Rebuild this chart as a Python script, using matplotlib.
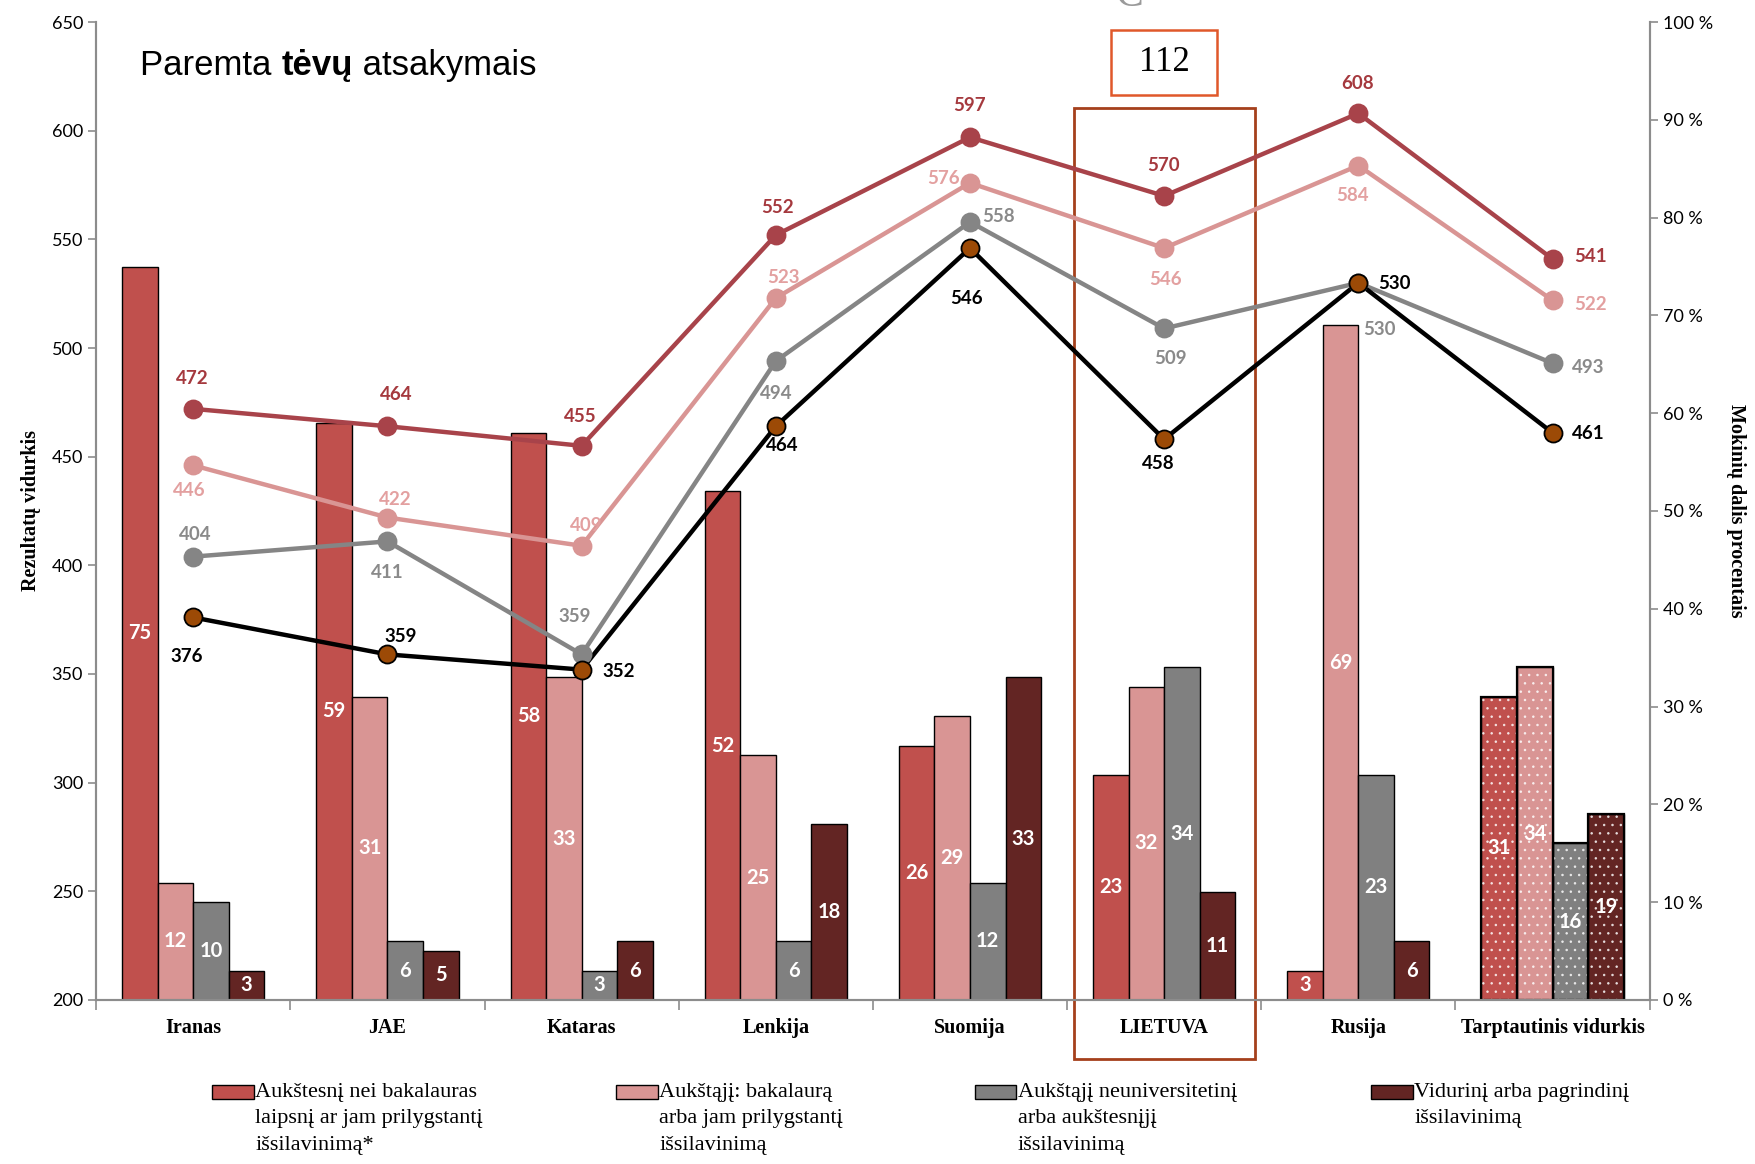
import matplotlib

matplotlib.use("Agg")
import matplotlib.pyplot as plt  # noqa: E402
import numpy as np  # noqa: E402
from matplotlib.offsetbox import AnchoredOffsetbox, HPacker, TextArea  # noqa: E402
from matplotlib.patches import Rectangle  # noqa: E402

# --- data -------------------------------------------------------------------
countries = ["Iranas", "JAE", "Kataras", "Lenkija", "Suomija", "LIETUVA",
             "Rusija", "Tarptautinis vidurkis"]

# student share per parent education level (%), right axis
share_higher = [75, 59, 58, 52, 26, 23, 3, 31]
share_bachelor = [12, 31, 33, 25, 29, 32, 69, 34]
share_nonuni = [10, 6, 3, 6, 12, 34, 23, 16]
share_secondary = [3, 5, 6, 18, 33, 11, 6, 19]

# mean score per parent education level, left axis
score_higher = [472, 464, 455, 552, 597, 570, 608, 541]
score_bachelor = [446, 422, 409, 523, 576, 546, 584, 522]
score_nonuni = [404, 411, 359, 494, 558, 509, 530, 493]
score_secondary = [376, 359, 352, 464, 546, 458, 530, 461]

legend_labels = [
    "Aukštesnį nei bakalauras\nlaipsnį ar jam prilygstantį\nišsilavinimą*",
    "Aukštąjį: bakalaurą\narba jam prilygstantį\nišsilavinimą",
    "Aukštąjį neuniversitetinį\narba aukštesnįjį\nišsilavinimą",
    "Vidurinį arba pagrindinį\nišsilavinimą",
]

# --- style -------------------------------------------------------------------
BAR_COLORS = ["#C0504D", "#D99594", "#808080", "#632523"]
LINE_COLORS = ["#A8434A", "#D99594", "#858585", "#000000"]
MARKER_FACES = ["#A8434A", "#D99594", "#858585", "#9C4A06"]
LABEL_COLORS = ["#A5393E", "#E3A0A0", "#8A8A8A", "#000000"]
SPINE = "#8C8C8C"
SANS = ["Lato", "DejaVu Sans"]
SERIF = ["Liberation Serif", "DejaVu Serif"]
plt.rcParams["hatch.linewidth"] = 0.6

# label offsets (pixels) per series and category
OFFSETS = [
    [(-1, 30), (9, 32), (-1, 29), (2, 28), (0, 32), (-1, 30), (-1, 30), (38, 2)],
    [(-4, -25), (8, 18), (5, 20), (8, 21), (-26, 4), (1, -31), (-6, -30), (38, -4)],
    [(2, 22), (0, -31), (-7, 38), (0, -32), (29, 6), (6, -30), (21, -47), (36, -4)],
    [(-7, -39), (13, 18), (37, -2), (6, -19), (-3, -50), (-6, -24), (36, -1), (36, -1)],
]

fig = plt.figure(figsize=(17.56, 11.64), dpi=100)
ax = fig.add_axes([0.0548, 0.141, 0.8846, 0.840])
ax2 = ax.twinx()
ax.set_zorder(ax2.get_zorder() + 1)
ax.patch.set_visible(False)

n = len(countries)
x = np.arange(n) + 0.5
width = 0.183
shares = [share_higher, share_bachelor, share_nonuni, share_secondary]
for i, vals in enumerate(shares):
    pos = x + (i - 1.5) * width
    ax2.bar(pos, vals, width=width, color=BAR_COLORS[i], edgecolor="black",
            linewidth=1.0, zorder=2)
    # dotted fill for the international average
    ax2.bar(pos[-1:], vals[-1:], width=width, facecolor="none",
            edgecolor=(1, 1, 1, 0.75), hatch="..", linewidth=0, zorder=3)
    ax2.bar(pos[-1:], vals[-1:], width=width, facecolor="none",
            edgecolor="black", linewidth=1.6, zorder=4)
    for px, v in zip(pos, vals):
        ax2.text(px, v / 2, str(v), ha="center", va="center", color="white",
                 fontsize=14.5, fontweight="bold", family=SANS, zorder=5)

scores = [score_higher, score_bachelor, score_nonuni, score_secondary]
for i, vals in enumerate(scores):
    ax.plot(x, vals, color=LINE_COLORS[i], linewidth=3.2, zorder=3 + i * 0.1)
    ax.plot(x, vals, linestyle="none", marker="o", markersize=13,
            markerfacecolor=MARKER_FACES[i],
            markeredgecolor="black" if i == 3 else MARKER_FACES[i],
            markeredgewidth=1.3, zorder=4 + i * 0.1)
for i, vals in enumerate(scores):
    for px, v, off in zip(x, vals, OFFSETS[i]):
        ax.annotate(str(v), (px, v), xytext=off, textcoords="offset pixels",
                    ha="center", va="center", color=LABEL_COLORS[i],
                    fontsize=13.5, fontweight="bold", family=SANS, zorder=8)

# axes
ax.set_xlim(0, n)
ax.set_ylim(200, 650)
ax2.set_ylim(0, 100)
ax.set_yticks(np.arange(200, 651, 50))
ax2.set_yticks(np.arange(0, 101, 10))
ax2.set_yticklabels([f"{v} %" for v in range(0, 101, 10)])
ax.set_xticks(np.arange(n + 1))
ax.set_xticklabels([])
ax.set_xticks(x, minor=True)
ax.set_xticklabels(countries, minor=True, family=SERIF, fontweight="bold",
                   fontsize=14.5)
ax.tick_params(axis="x", which="minor", length=0, pad=13)
ax.tick_params(axis="x", which="major", length=7, color=SPINE, width=1.2)
ax.tick_params(axis="y", length=6, color=SPINE, width=1.2, labelsize=13)
ax2.tick_params(axis="y", length=6, color=SPINE, width=1.2, labelsize=13)
for a in (ax, ax2):
    for lab in a.get_yticklabels():
        lab.set_family(SANS)
    a.spines["top"].set_visible(False)
    for s in ("left", "right", "bottom"):
        a.spines[s].set_color(SPINE)
        a.spines[s].set_linewidth(1.5)

ax.set_ylabel("Rezultatų vidurkis", family=SERIF, fontweight="bold",
              fontsize=14.5, labelpad=8)
ax2.set_ylabel("Mokinių dalis procentais", family=SERIF, fontweight="bold",
               fontsize=14.5, rotation=270, labelpad=24)

# LIETUVA highlight box and the "112" box above it
ax.add_patch(Rectangle((5.035, 172.7), 0.935, 437.6, fill=False,
                       edgecolor="#A5401C", linewidth=2.0, clip_on=False,
                       zorder=2))
ax.add_patch(Rectangle((5.226, 616.5), 0.548, 29.9, fill=False,
                       edgecolor="#E0582A", linewidth=1.8, clip_on=False,
                       zorder=2))
ax.text(5.5, 631.5, "112", ha="center", va="center", family=SERIF,
        fontsize=25, color="black")

# title with bold word
font_t = ["Liberation Sans", "DejaVu Sans"]
parts = [TextArea("Paremta ", textprops=dict(fontsize=25, family=font_t)),
         TextArea("tėvų", textprops=dict(fontsize=25, fontweight="bold", family=font_t)),
         TextArea(" atsakymais", textprops=dict(fontsize=25, family=font_t))]
title = AnchoredOffsetbox(loc="upper left", child=HPacker(children=parts, pad=0, sep=0),
                          bbox_to_anchor=(0.080, 0.958), bbox_transform=fig.transFigure,
                          frameon=False, pad=0, borderpad=0)
fig.add_artist(title)

# clipped grey glyph at the very top
fig.text(0.643, 1.004, "C", color="#9A9A9A", fontsize=30, ha="center",
         va="center", family=SERIF)

# legend drawn by hand so the swatch sits on the first text line
leg_x = [0.121, 0.351, 0.555, 0.781]
for lx, lab, col in zip(leg_x, legend_labels, BAR_COLORS):
    fig.patches.append(Rectangle((lx, 0.0555), 0.0235, 0.0125,
                                 transform=fig.transFigure, facecolor=col,
                                 edgecolor="black", linewidth=1.0))
    fig.text(lx + 0.0245, 0.0700, lab, ha="left", va="top", family=SERIF,
             fontsize=16, linespacing=1.55)

fig.savefig("out.png", dpi=100)
